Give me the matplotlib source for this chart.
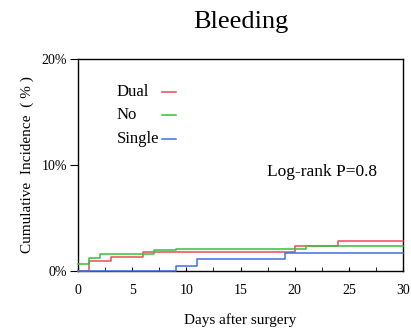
import matplotlib
matplotlib.use("Agg")
import matplotlib.pyplot as plt

# cumulative incidence (%) step curves, change points in days after surgery
dual_days = [0, 1, 3, 6, 20, 24, 30]
dual_pct = [0.0, 0.92, 1.36, 1.8, 2.34, 2.8, 2.8]
no_days = [0, 1, 2, 7, 9, 21, 30]
no_pct = [0.66, 1.23, 1.58, 2.0, 2.1, 2.34, 2.34]
single_days = [0, 9, 11, 19.1, 30]
single_pct = [0.0, 0.44, 1.14, 1.68, 1.68]

groups = ["Dual", "No", "Single"]
colors = ["#ee4a55", "#36c236", "#3f6fe6"]
xticks = [0, 5, 10, 15, 20, 25, 30]
yticks = [0, 10, 20]

plt.rcParams["font.family"] = ["Liberation Serif", "DejaVu Serif"]

fig = plt.figure(figsize=(4.11, 3.34), dpi=100)
ax = fig.add_axes([78 / 411, 1 - 271 / 334, 325 / 411, 212 / 334])

series = [(dual_days, dual_pct), (no_days, no_pct), (single_days, single_pct)]
for name, c, (d, p) in zip(groups, colors, series):
    ax.step(d, p, where="post", color=c, lw=1.1, zorder=3, clip_on=False)

ax.set_xlim(0, 30)
ax.set_ylim(0, 20)
ax.set_xticks(xticks)
ax.set_xticks([x + 2.5 for x in xticks[:-1]], minor=True)
ax.tick_params(axis="x", which="both", direction="in", length=3, labelsize=10, pad=9)
ax.set_yticks(yticks)
ax.set_yticklabels([f"{v}%" for v in yticks])
ax.tick_params(axis="y", direction="out", length=6, labelsize=10, pad=2)
for sp in ax.spines.values():
    sp.set_linewidth(1.0)

ax.set_xlabel("Days after surgery", fontsize=11, labelpad=12)
ax.set_ylabel("Cumulative  Incidence  ( % )", fontsize=11, labelpad=5)
ax.set_title("Bleeding", fontsize=19, pad=22)

# hand-placed legend: labels left-aligned, short line sample after them
leg_y = [0.844, 0.736, 0.623]
for name, c, y in zip(groups, colors, leg_y):
    ax.text(0.12, y, name, transform=ax.transAxes, fontsize=12, va="center")
    ax.plot([0.258, 0.302], [y, y], transform=ax.transAxes, color=c, lw=1.1)

ax.text(0.582, 0.467, "Log-rank P=0.8", transform=ax.transAxes,
        fontsize=12.5, va="center")

fig.savefig("out.png", dpi=100)
